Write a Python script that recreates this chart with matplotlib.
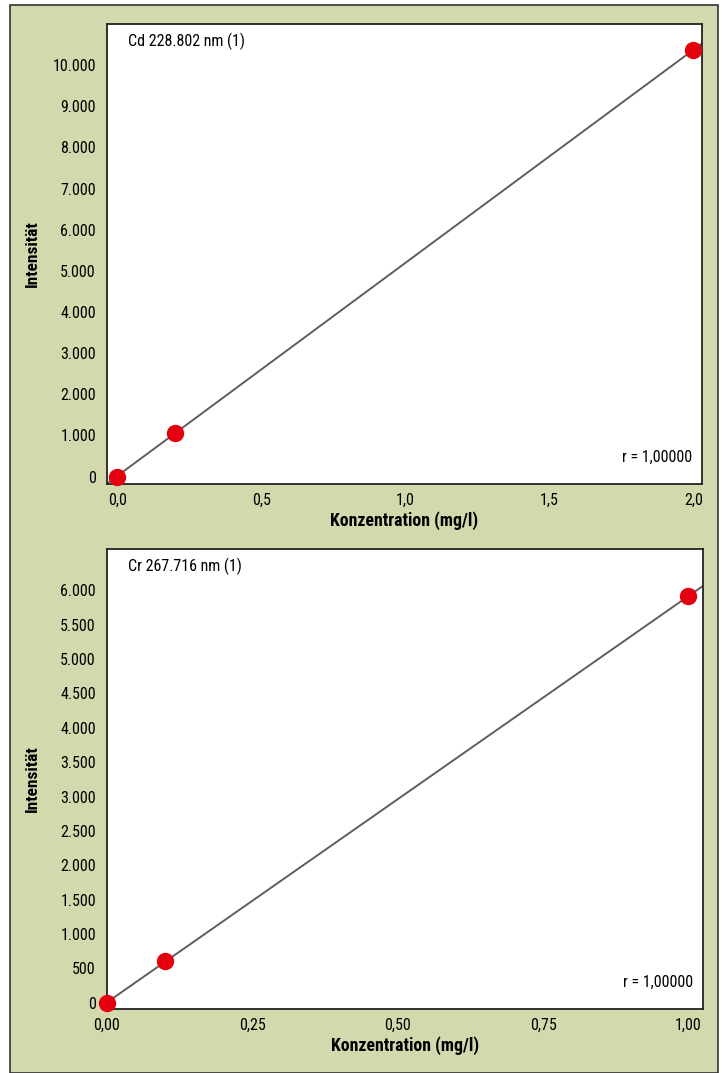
import matplotlib.pyplot as plt
import matplotlib.patches as mpatches
import numpy as np

plt.rcParams['font.family'] = ['Roboto Condensed', 'DejaVu Sans']

# Calibration data, Cd and Cr
cd_conc = [0.0, 0.2, 2.0]
cd_int = [0, 1060, 10370]
cr_conc = [0.0, 0.1, 1.0]
cr_int = [0, 605, 5915]

cd_xticks = [0.0, 0.5, 1.0, 1.5, 2.0]
cd_xlabels = ['0,0', '0,5', '1,0', '1,5', '2,0']
cd_yticks = list(range(0, 10001, 1000))
cr_xticks = [0.0, 0.25, 0.5, 0.75, 1.0]
cr_xlabels = ['0,00', '0,25', '0,50', '0,75', '1,00']
cr_yticks = list(range(0, 6001, 500))

green = '#d3d9ad'

fig = plt.figure(figsize=(7.22, 10.73), dpi=100)
W, H = 722, 1073
fig.patches.append(mpatches.Rectangle((10 / W, 0), 708 / W, 1068 / H, transform=fig.transFigure,
                                      facecolor=green, edgecolor='#333333', lw=1.2, zorder=-5))


def ylab(v):
    return f'{v:,}'.replace(',', '.')


def panel(rect, xs, ys, xlim, ylim, xticks, xlabels, yticks, title):
    l, t, r, b = rect
    ax = fig.add_axes([l / W, 1 - b / H, (r - l) / W, (b - t) / H])
    ax.set_facecolor('white')
    coef = np.polyfit(xs, ys, 1)
    xx = np.array(xlim)
    ax.plot(xx, np.polyval(coef, xx), color='#5e5e5e', lw=1.4, zorder=2)
    ax.plot(xs, ys, 'o', color='#e3000f', markersize=11.5, zorder=3, clip_on=False)
    ax.set_xlim(*xlim)
    ax.set_ylim(*ylim)
    ax.set_xticks(xticks, xlabels)
    ax.set_yticks(yticks, [ylab(v) for v in yticks])
    ax.tick_params(length=0, labelsize=11.5, pad=8)
    ax.tick_params(axis='x', pad=6)
    for s in ax.spines.values():
        s.set_linewidth(1.3)
        s.set_color('#222222')
    ax.text(0.036, 0.98, title, transform=ax.transAxes, fontsize=11.5, va='top', ha='left')
    ax.text(0.984, 0.042, 'r = 1,00000', transform=ax.transAxes, fontsize=11.5, va='bottom', ha='right')
    ax.set_xlabel('Konzentration (mg/l)', fontsize=12.8, fontweight='bold', labelpad=3)
    ax.set_ylabel('Intensität', fontsize=12.5, fontweight='bold')
    ax.yaxis.set_label_coords(-(107 - 40) / (r - l), 0.5)
    return ax


panel((107, 24, 702, 484), cd_conc, cd_int, (-0.035, 2.03), (-180, 11000),
      cd_xticks, cd_xlabels, cd_yticks, 'Cd 228.802 nm (1)')
panel((107, 549, 703, 1009), cr_conc, cr_int, (0.0, 1.025), (-90, 6600),
      cr_xticks, cr_xlabels, cr_yticks, 'Cr 267.716 nm (1)')

fig.savefig('out.png', dpi=100)
